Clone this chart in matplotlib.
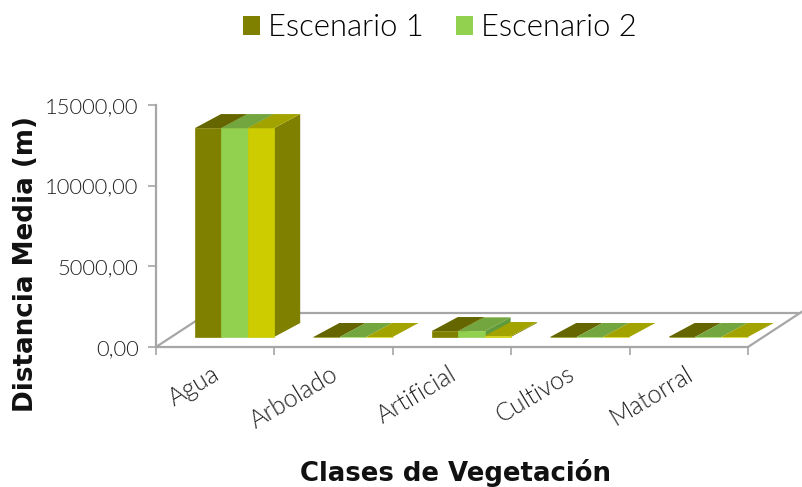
import matplotlib
matplotlib.use('Agg')
import matplotlib.pyplot as plt
from matplotlib.patches import Polygon, Patch

categories = ['Agua', 'Arbolado', 'Artificial', 'Cultivos', 'Matorral']
escenario_1 = [12950, 0, 370, 0, 0]
escenario_2 = [12950, 0, 350, 0, 0]
escenario_3 = [12950, 0, 60, 0, 0]
series_names = ['Escenario 1', 'Escenario 2']
y_ticks = [0, 5000, 10000, 15000]
y_tick_labels = ['0,00', '5000,00', '10000,00', '15000,00']

front_colors = ['#808000', '#92d050', '#cccc00']
top_colors = ['#666600', '#74a640', '#a3a300']
side_colors = ['#808000', '#5f9a3b', '#808000']
grey = '#a6a6a6'

W, H = 802, 487
fig = plt.figure(figsize=(W / 100, H / 100), dpi=100)
ax = fig.add_axes([156 / W, (H - 347) / H, (748 - 156) / W, (347 - 105) / H])
ax.set_xlim(0, 5)
ax.set_ylim(0, 15000)

px_x = 5 / (748 - 156)
px_y = 15000 / (347 - 105)

# floor in fake 3d
floor_dx, floor_dy = 52 * px_x, 34 * px_y
ax.plot([0, floor_dx, 5 + floor_dx], [0, floor_dy, floor_dy], color=grey, lw=1.6, clip_on=False, zorder=1)
ax.plot([5, 5 + 55 * px_x], [0, 36 * px_y], color=grey, lw=1.6, clip_on=False, zorder=1)

bar_w = 26.4 * px_x
depth_x, depth_y = 26 * px_x, 14 * px_y
off_x, off_y = 39 * px_x, 10 * px_y

for i in range(len(categories)):
    for s, vals in enumerate([escenario_1, escenario_2, escenario_3]):
        x0 = i + off_x + s * bar_w
        x1 = x0 + bar_w
        y0 = off_y
        y1 = off_y + vals[i]
        side = [(x1, y0), (x1 + depth_x, y0 + depth_y), (x1 + depth_x, y1 + depth_y), (x1, y1)]
        top = [(x0, y1), (x1, y1), (x1 + depth_x, y1 + depth_y), (x0 + depth_x, y1 + depth_y)]
        front = [(x0, y0), (x1, y0), (x1, y1), (x0, y1)]
        ax.add_patch(Polygon(side, fc=side_colors[s], ec='none', clip_on=False, zorder=2 + s))
        ax.add_patch(Polygon(top, fc=top_colors[s], ec='none', clip_on=False, zorder=2 + s))
        ax.add_patch(Polygon(front, fc=front_colors[s], ec=front_colors[s], lw=0.5, clip_on=False, zorder=2 + s))

for name in ['top', 'right']:
    ax.spines[name].set_visible(False)
for name in ['left', 'bottom']:
    ax.spines[name].set_color(grey)
    ax.spines[name].set_linewidth(1.6)

tick_font = 'Lato'
ax.set_yticks(y_ticks)
ax.set_yticklabels(y_tick_labels, fontsize=15.8, family=tick_font, fontweight=300, color='#222222')
ax.set_xticks(range(6))
ax.set_xticklabels([])
ax.set_xticks([i + 0.47 for i in range(5)], minor=True)
ax.set_xticklabels(categories, minor=True, rotation=31, ha='right', rotation_mode='anchor',
                   fontsize=18, family=tick_font, fontweight=300, color='#222222')
ax.tick_params(axis='y', which='major', color=grey, width=1.2, length=6, pad=6.5)
ax.tick_params(axis='x', which='major', color=grey, width=1.2, length=6)
ax.tick_params(axis='x', which='minor', length=0, pad=11)

fig.text(26 / W, 1 - 264 / H, 'Distancia Media (m)', rotation=90, ha='center', va='center',
         fontsize=18.8, fontweight='bold', color='#111111')
fig.text(455 / W, 1 - 473 / H, 'Clases de Vegetación', ha='center', va='center',
         fontsize=18.7, fontweight='bold', color='#111111')

handles = [Patch(fc=front_colors[0]), Patch(fc=front_colors[1])]
fig.legend(handles, series_names, loc='center', bbox_to_anchor=(440 / W, 1 - 28 / H), ncol=2, frameon=False,
           prop={'family': tick_font, 'size': 22.3, 'weight': 300}, handlelength=0.55, handleheight=0.55,
           handletextpad=0.25, columnspacing=1.05)

fig.savefig('out.png', dpi=100)
